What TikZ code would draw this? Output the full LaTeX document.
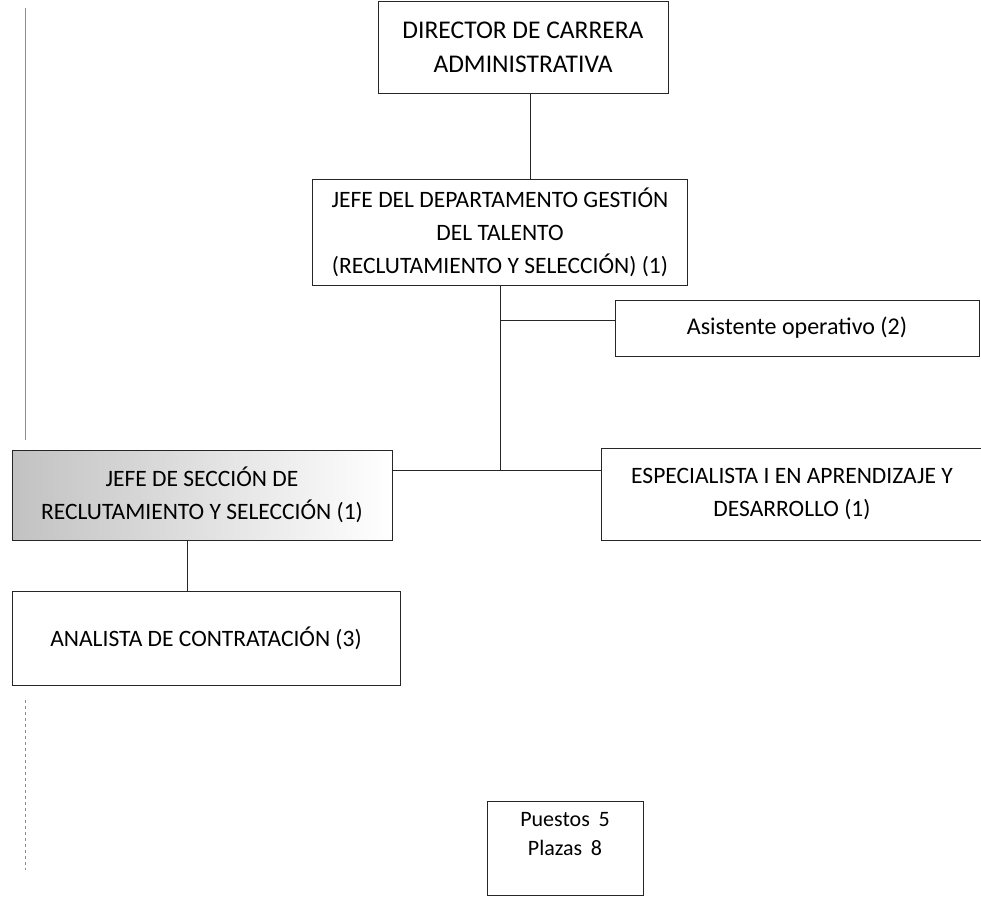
\documentclass[tikz,border=0pt]{standalone}
\usepackage{fontspec}
\setmainfont{Carlito}
\begin{document}
\begin{tikzpicture}[x=1pt,y=-1pt,
    puesto/.style={draw=black!85,line width=0.8pt,align=center,inner sep=0pt,
      font=\fontsize{23.5}{33}\selectfont},
    enlace/.style={draw=black!85,line width=0.8pt}]
  \useasboundingbox (0,0) rectangle (981,896);
  % page edge of the scan
  \draw[black!45,line width=0.4pt] (25,8) -- (25,440);
  \draw[black!45,line width=0.4pt,dashed] (25,700) -- (25,870);
  \draw
    (523,47) node[puesto,minimum width=290,minimum height=92,
      font=\fontsize{25.5}{34}\selectfont] (dir) {DIRECTOR DE CARRERA\\ADMINISTRATIVA}
    (500,232) node[puesto,minimum width=375,minimum height=106] (dept)
      {JEFE DEL DEPARTAMENTO GESTIÓN\\DEL TALENTO\\(RECLUTAMIENTO Y SELECCIÓN) (1)}
    (797,328) node[puesto,minimum width=364,minimum height=56,
      font=\fontsize{24}{33}\selectfont] (asis) {Asistente operativo (2)}
    (792,494) node[puesto,minimum width=382,minimum height=92] (esp)
      {ESPECIALISTA I EN APRENDIZAJE Y\\DESARROLLO (1)}
    (202,495) node[puesto,minimum width=380,minimum height=90,
      left color=black!24,right color=white] (jsec)
      {JEFE DE SECCIÓN DE\\RECLUTAMIENTO Y SELECCIÓN (1)}
    (206,638) node[puesto,minimum width=388,minimum height=94] (anal)
      {ANALISTA DE CONTRATACIÓN (3)}
    (565,848) node[puesto,minimum width=156,minimum height=94,
      font=\fontsize{22}{29}\selectfont] (tot) {Puestos\ \,5\\Plazas\ \,8\\\mbox{}};
  \coordinate (drop) at (530,0);
  \coordinate (trunk) at (500,470);
  \coordinate (asisjoin) at (500,320);
  \coordinate (sub) at (187,0);
  \begin{scope}[enlace]
    \draw (dir.south -| drop) to (dept.north -| drop);
    \draw (dept.south -| trunk) to (trunk);
    \draw (asisjoin) to (asisjoin -| asis.west);
    \draw (jsec.east |- trunk) to (trunk -| esp.west);
    \draw (jsec.south -| sub) to (anal.north -| sub);
  \end{scope}
\end{tikzpicture}
\end{document}
